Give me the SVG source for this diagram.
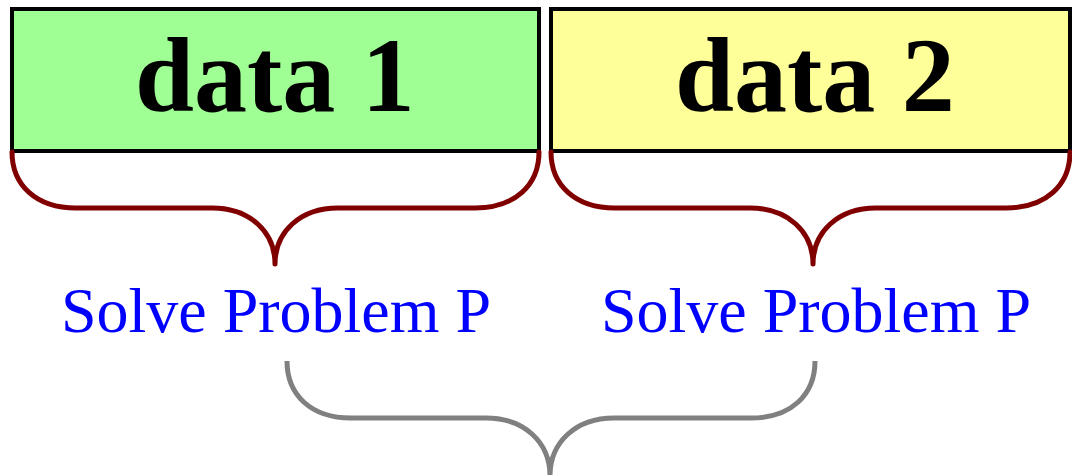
<svg xmlns="http://www.w3.org/2000/svg" width="1072" height="475" viewBox="0 0 1072 475">
<style>
.box{stroke:#000;stroke-width:4}
.title{font-family:"Liberation Serif",serif;font-weight:bold;font-size:106px;fill:#000;text-anchor:middle}
.lbl{font-family:"Liberation Serif",serif;font-size:64px;fill:#0000ff;text-anchor:middle}
.brace{fill:none;stroke:#800000;stroke-width:5;stroke-linecap:round}
.gbrace{fill:none;stroke:#808080;stroke-width:5}
</style>
<rect width="1072" height="475" fill="#fff"/>
<g id="data1">
<rect class="box" x="12" y="9" width="527" height="142" fill="#a0ff94"/>
<text class="title" x="275" y="111">data 1</text>
</g>
<g id="data2">
<rect class="box" x="551" y="9" width="519" height="142" fill="#ffff99"/>
<text class="title" x="815" y="111">data 2</text>
</g>
<g id="label1"><text class="lbl" x="276" y="332">Solve Problem P</text></g>
<g id="label2"><text class="lbl" x="816" y="332">Solve Problem P</text></g>
<g id="connectors">
<path class="brace" d="M12,152 C12,185 36,208 76,208 L212,208 C250,208 275,232 275,264 M539,152 C539,185 515,208 475,208 L338,208 C300,208 275,232 275,264"/>
<path class="brace" d="M551,152 C551,185 575,208 615,208 L750,208 C788,208 813,232 813,264 M1070,152 C1070,185 1046,208 1006,208 L876,208 C838,208 813,232 813,264"/>
<path class="gbrace" d="M287,361 C287,395 311,418 351,418 L486,418 C524,418 550,442 550,476 M815,361 C815,395 791,418 751,418 L614,418 C576,418 550,442 550,476"/>
</g>
</svg>
